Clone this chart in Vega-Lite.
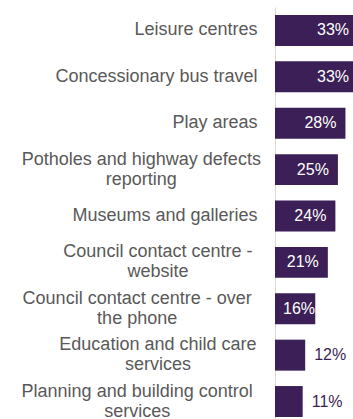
{
  "$schema": "https://vega.github.io/schema/vega-lite/v6.json",
  "autosize": {"type": "none"},
  "padding": {"left": 275, "top": 7, "right": 0, "bottom": 0},
  "width": 78,
  "height": 418,
  "background": "white",
  "config": {"view": {"stroke": null}, "font": "Liberation Sans"},
  "data": {
    "values": [
      {"service": "Leisure centres", "pct": 0.33},
      {"service": "Concessionary bus travel", "pct": 0.33},
      {"service": "Play areas", "pct": 0.28},
      {"service": "Potholes and highway defects\nreporting", "pct": 0.25},
      {"service": "Museums and galleries", "pct": 0.24},
      {"service": "Council contact centre -\nwebsite", "pct": 0.21},
      {"service": "Council contact centre - over\nthe phone", "pct": 0.16},
      {"service": "Education and child care\nservices", "pct": 0.12},
      {"service": "Planning and building control\nservices", "pct": 0.11}
    ]
  },
  "encoding": {
    "y": {
      "field": "service",
      "type": "nominal",
      "sort": null,
      "scale": {"paddingInner": 0.332, "paddingOuter": 0.172},
      "axis": {
        "title": null,
        "ticks": false,
        "domainColor": "#d9d9d9",
        "domainWidth": 1,
        "labelFont": "Liberation Sans",
        "labelFontSize": 18,
        "labelColor": "#595959",
        "labelLineHeight": 20,
        "labelLimit": 400,
        "labelExpr": "split(datum.value, '\\n')",
        "labelAlign": {"condition": {"test": "indexof(datum.value, '\\n') >= 0", "value": "center"}, "value": "right"},
        "labelOffset": {"condition": {"test": "indexof(datum.value, '\\n') >= 0", "value": -10}, "value": 0},
        "labelPadding": {"expr": "indexof(datum.value, '\\n') >= 0 ? 18 + length(split(datum.value, '\\n')[0]) * 4.15 : 18"}
      }
    },
    "x": {
      "field": "pct",
      "type": "quantitative",
      "scale": {"domain": [0, 0.31]},
      "axis": null
    }
  },
  "layer": [
    {"mark": {"type": "bar", "color": "#3b1f56", "clip": true}},
    {
      "transform": [{"filter": "datum.pct >= 0.2"}],
      "mark": {"type": "text", "align": "right", "baseline": "middle", "dx": -9, "fontSize": 16, "color": "white", "font": "Liberation Sans"},
      "encoding": {"text": {"field": "pct", "format": ".0%"}}
    },
    {
      "transform": [{"filter": "datum.pct >= 0.13 && datum.pct < 0.2"}],
      "mark": {"type": "text", "align": "left", "baseline": "middle", "dx": 8, "fontSize": 16, "color": "white", "font": "Liberation Sans"},
      "encoding": {"x": {"datum": 0}, "text": {"field": "pct", "format": ".0%"}}
    },
    {
      "transform": [{"filter": "datum.pct < 0.13"}],
      "mark": {"type": "text", "align": "left", "baseline": "middle", "dx": 9, "fontSize": 16, "color": "#3b1f56", "font": "Liberation Sans"},
      "encoding": {"text": {"field": "pct", "format": ".0%"}}
    }
  ]
}
